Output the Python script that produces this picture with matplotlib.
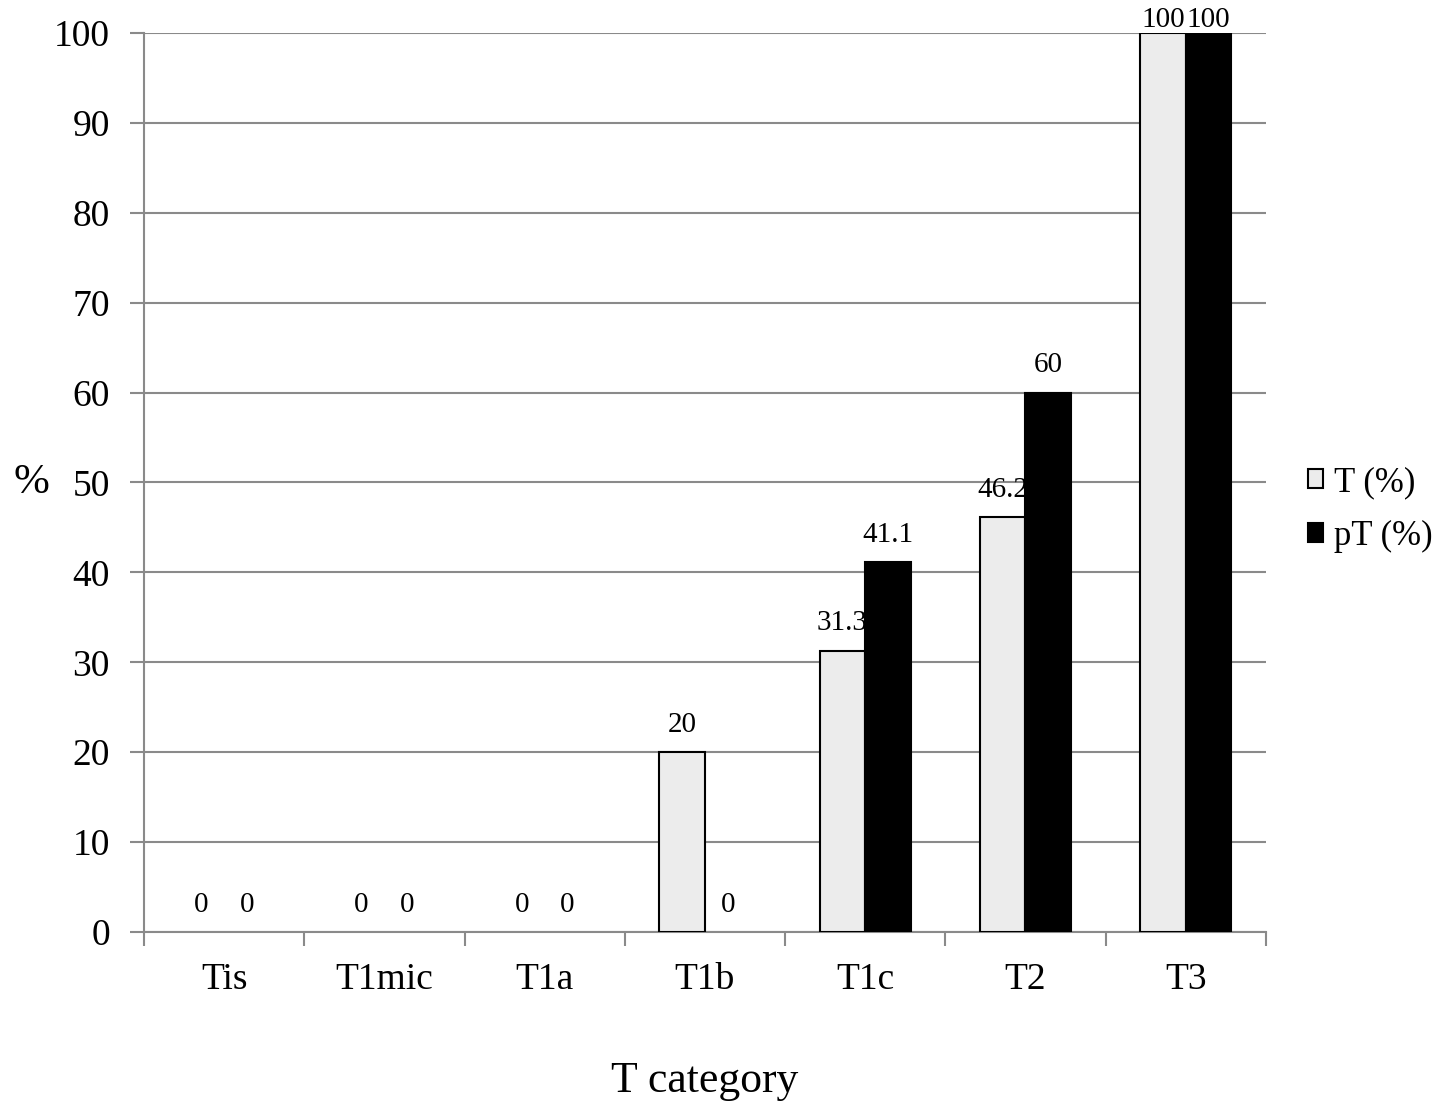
import numpy as np
import matplotlib.pyplot as plt
from matplotlib.patches import Patch

plt.rcParams['font.family'] = ['Liberation Serif', 'DejaVu Serif']

# Data
categories = ["Tis", "T1mic", "T1a", "T1b", "T1c", "T2", "T3"]
t_pct = [0, 0, 0, 20, 31.3, 46.2, 100]
pt_pct = [0, 0, 0, 0, 41.1, 60, 100]
t_labels = ["0", "0", "0", "20", "31.3", "46.2", "100"]
pt_labels = ["0", "0", "0", "0", "41.1", "60", "100"]

fig = plt.figure(figsize=(14.41, 11.16), dpi=100)
ax = fig.add_axes([0.0999, 0.1649, 0.7786, 0.8056])

x = np.arange(len(categories))
w = 0.285
light = "#ececec"
# zero-height bars get no outline
lw_t = [1.5 if v > 0 else 0 for v in t_pct]
lw_pt = [1.5 if v > 0 else 0 for v in pt_pct]
ax.bar(x - w / 2, t_pct, w, color=light, edgecolor="black", linewidth=lw_t, zorder=3)
ax.bar(x + w / 2, pt_pct, w, color="black", edgecolor="black", linewidth=lw_pt, zorder=3)

# data labels (the 100s are pushed down to stay inside the chart)
for xs, vals, labs in [(x - w / 2, t_pct, t_labels), (x + w / 2, pt_pct, pt_labels)]:
    for xi, v, s in zip(xs, vals, labs):
        off = 9.5 if v >= 100 else 19.5
        ax.annotate(s, (xi, v), xytext=(0, off), textcoords="offset points",
                    ha="center", va="center", fontsize=21, annotation_clip=False)

# Axes styling
ax.set_xlim(-0.5, len(categories) - 0.5)
ax.set_ylim(0, 100)
ax.set_yticks(np.arange(0, 101, 10))
ax.yaxis.grid(True, color="#8a8a8a", linewidth=1.5, zorder=0)
ax.set_axisbelow(True)
for s in ["top", "right"]:
    ax.spines[s].set_visible(False)
for s in ["left", "bottom"]:
    ax.spines[s].set_color("#8a8a8a")
    ax.spines[s].set_linewidth(1.5)

ax.set_xticks(np.arange(-0.5, len(categories), 1.0))
ax.set_xticklabels([])
ax.set_xticks(x, minor=True)
ax.set_xticklabels(categories, minor=True, fontsize=27)
ax.tick_params(axis="x", which="major", length=10, width=1.5, color="#8a8a8a")
ax.tick_params(axis="x", which="minor", length=0, pad=22)
ax.tick_params(axis="y", length=10, width=1.5, color="#8a8a8a", labelsize=27, pad=14.5)

ax.set_xlabel("T category", fontsize=31.5, labelpad=46)
ax.set_ylabel("%", fontsize=31, rotation=0, va="center")
ax.yaxis.set_label_coords(-0.1, 0.5)

handles = [Patch(facecolor=light, edgecolor="black", linewidth=1.5, label="T (%)"),
           Patch(facecolor="black", edgecolor="black", linewidth=1.5, label="pT (%)")]
ax.legend(handles=handles, loc="center left", bbox_to_anchor=(1.025, 0.47), frameon=False,
          fontsize=25, handlelength=0.45, handleheight=0.45, handletextpad=0.3,
          labelspacing=0.6, borderaxespad=0)

plt.savefig("out.png", dpi=100)
